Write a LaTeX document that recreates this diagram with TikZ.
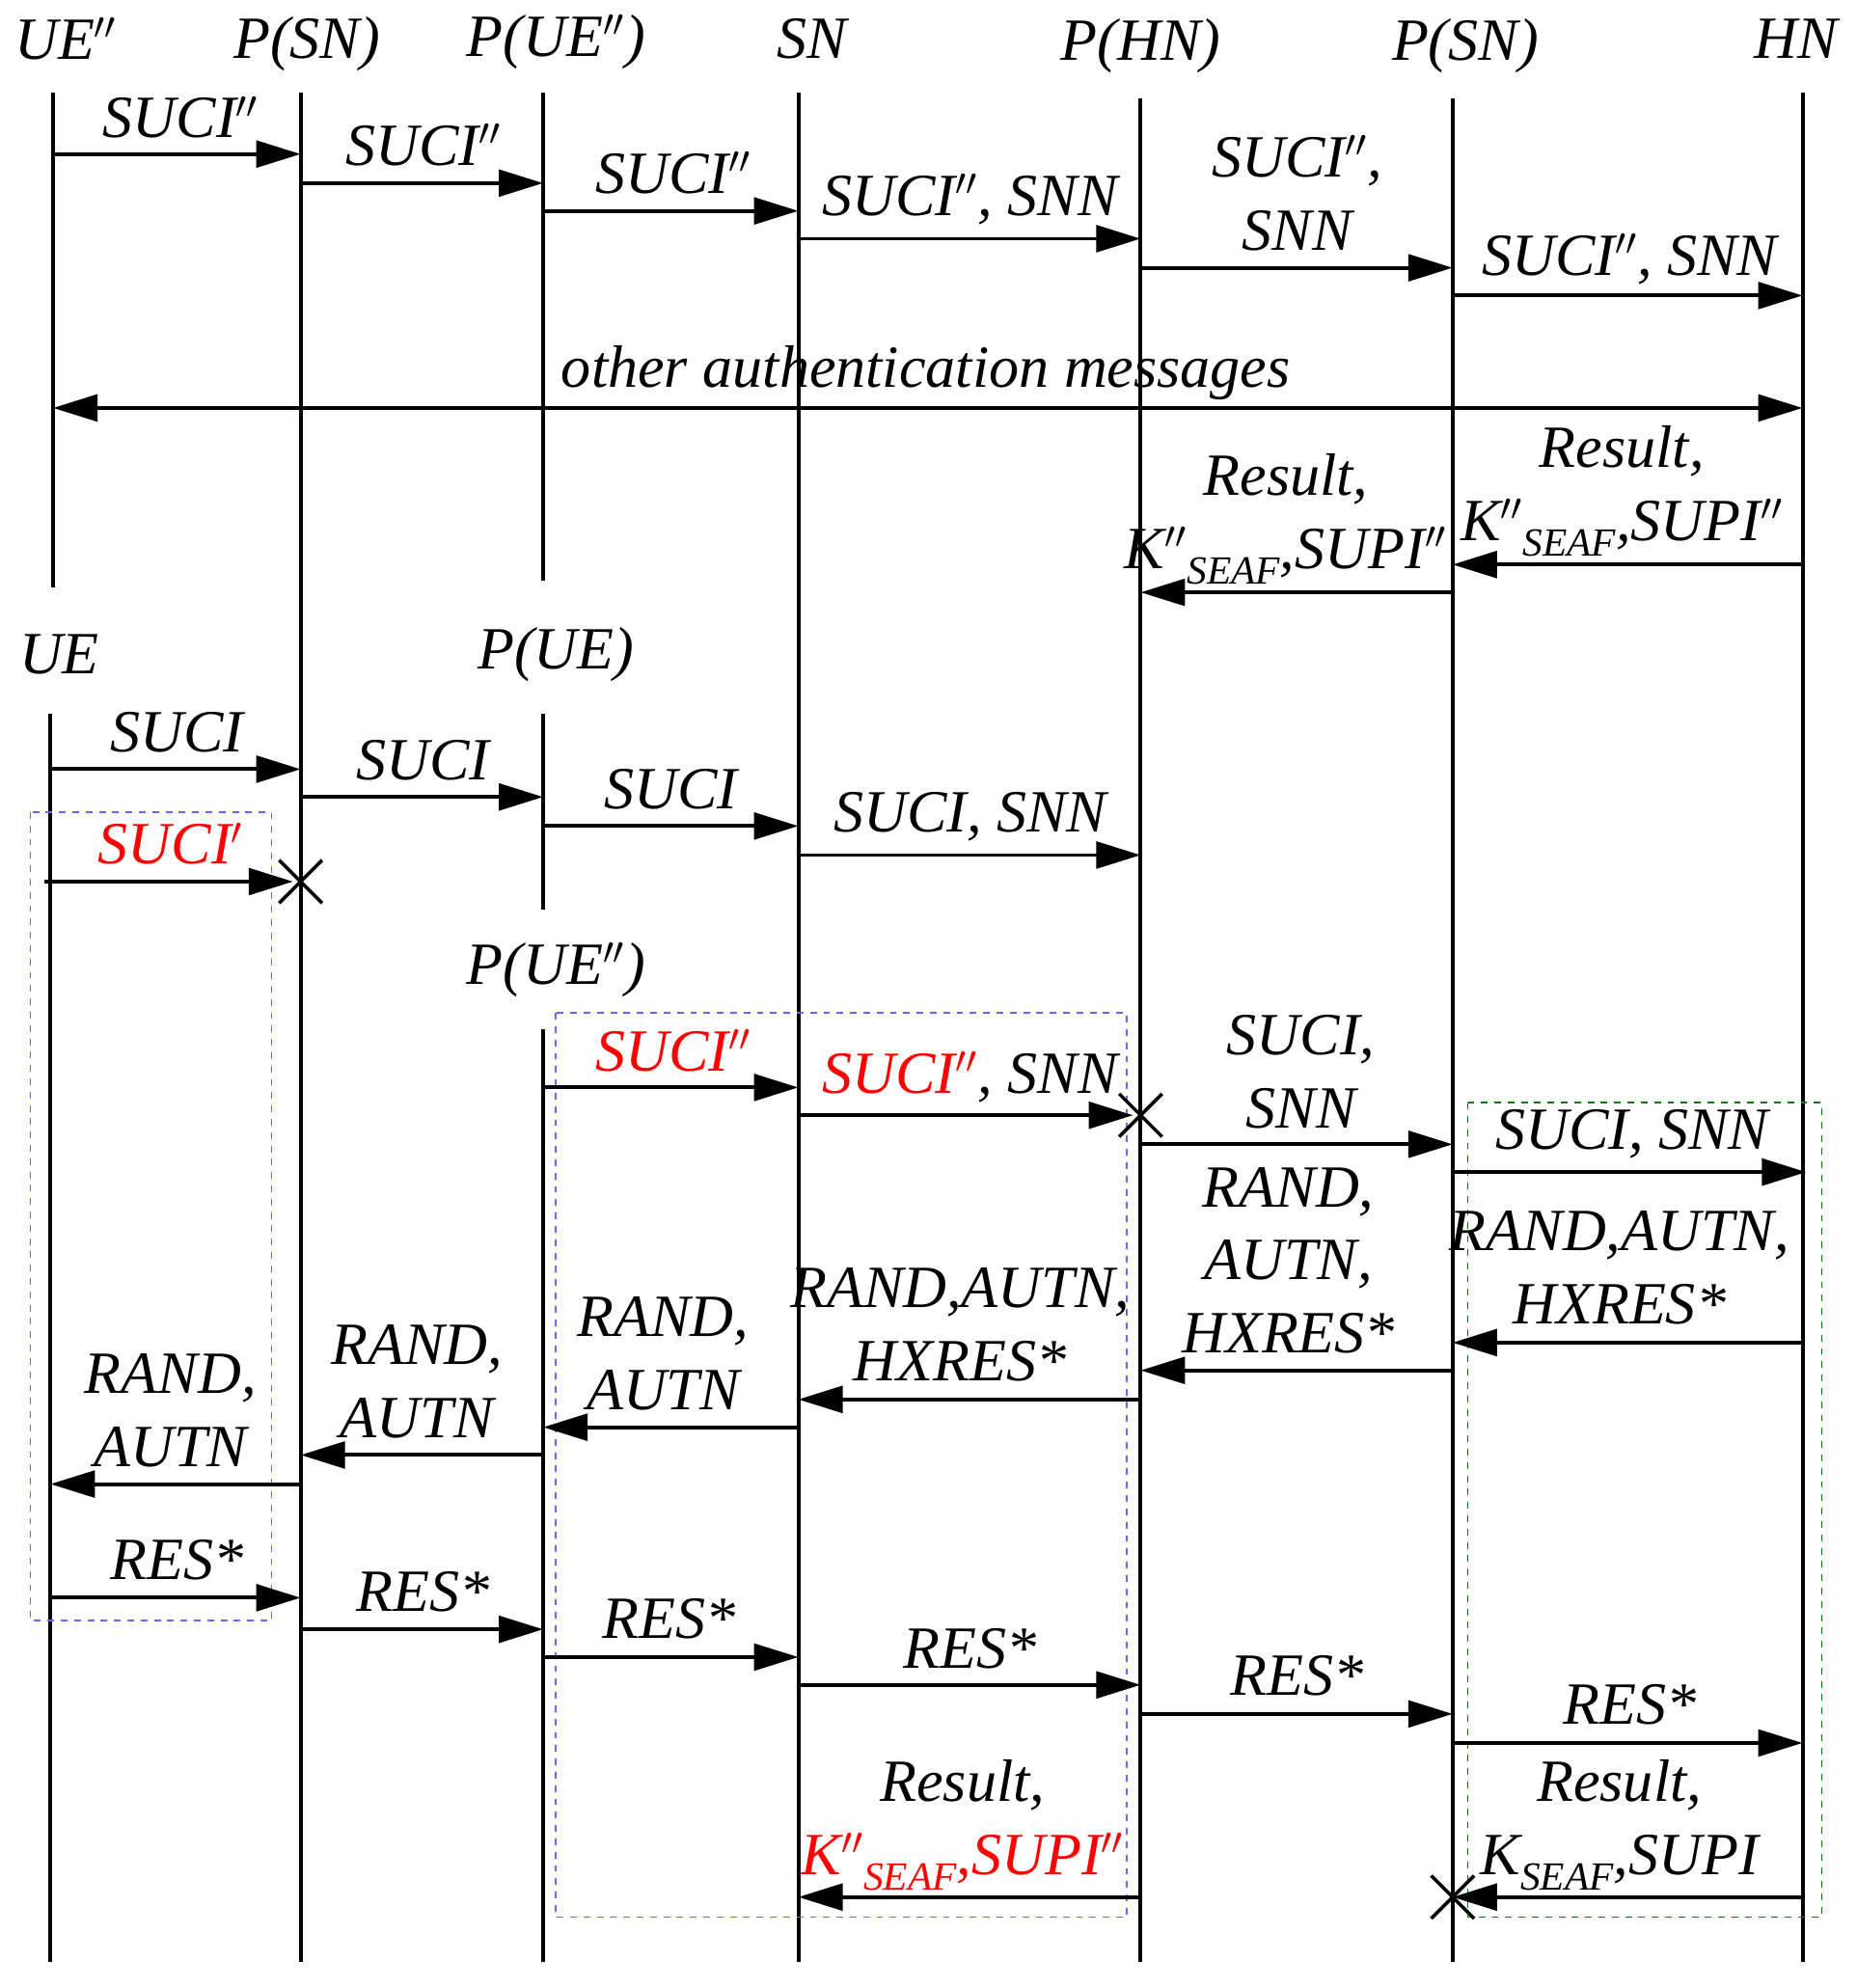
\documentclass[tikz,border=0pt]{standalone}
\usepackage{fontspec}
\setmainfont{Liberation Serif}
\usetikzlibrary{arrows.meta,calc}
\newcommand{\pp}{$''$}
\newcommand{\sub}[1]{\raisebox{-7pt}{\fontsize{18}{18}\selectfont #1}}
\tikzset{
 x=0.02cm,y=-0.02cm,
 life/.style={line width=1.7pt},
 msg/.style={line width=1.7pt,-{Triangle[length=20pt,width=12pt]}},
 dmsg/.style={line width=1.7pt,{Triangle[length=20pt,width=12pt]}-{Triangle[length=20pt,width=12pt]}},
 lbl/.style={font=\fontsize{27}{33}\selectfont\itshape,inner sep=0pt},
 hdr/.style={font=\fontsize{27}{33}\selectfont\itshape,inner sep=0pt},
 xmark/.style={line width=1.5pt},
 bbox/.style={dashed,draw=blue!60,line width=0.6pt},
 gbox/.style={dashed,draw=green!50!black,line width=0.6pt}
}
\newcommand{\msgline}[4]{\coordinate (#4a) at (#1,#3);\coordinate (#4b) at (#2,#3);\draw[msg] (#4a) -- (#4b);}
\newcommand{\xm}[3]{\coordinate (#3) at (#1,#2);\draw[xmark] ($(#3)+(-17,-17)$) -- ($(#3)+(17,17)$) ($(#3)+(-17,17)$) -- ($(#3)+(17,-17)$);}
\begin{document}
\begin{tikzpicture}
\useasboundingbox (0,0) rectangle (1470,1574);
% headers
\node[hdr] (h1) at (52,31) {UE\pp};
\node[hdr] (h2) at (243,35) {P(SN)};
\node[hdr] (h3) at (440,33) {P(UE\pp)};
\node[hdr] (h4) at (643,31) {SN};
\node[hdr] (h5) at (903,36) {P(HN)};
\node[hdr] (h6) at (1160,36) {P(SN)};
\node[hdr] (h7) at (1422,31) {HN};
\node[hdr] (h8) at (47,518) {UE};
\node[hdr] (h9) at (440,518) {P(UE)};
\node[hdr] (h10) at (440,768) {P(UE\pp)};
% lifelines
\draw[life] (42,73) -- (42,465);
\draw[life] (238,73) -- (238,1553);
\draw[life] (430,73) -- (430,460);
\draw[life] (632,73) -- (632,1553);
\draw[life] (903,78) -- (903,1553);
\draw[life] (1150,78) -- (1150,1553);
\draw[life] (1427,73) -- (1427,1553);
\draw[life] (40,565) -- (40,1553);
\draw[life] (430,565) -- (430,720);
\draw[life] (430,815) -- (430,1553);
% boxes
\draw[bbox] (24,643) rectangle (215,1283);
\draw[bbox] (440,802) rectangle (892,1518);
\draw[gbox] (1162,873) rectangle (1442,1518);
% top messages
\msgline{42}{238}{122}{m1}\node[lbl] at (143,93) {SUCI\pp};
\msgline{238}{430}{145}{m2}\node[lbl] at (335,115) {SUCI\pp};
\msgline{430}{632}{167}{m3}\node[lbl] at (533,137) {SUCI\pp};
\msgline{632}{903}{189}{m4}\node[lbl] at (768,158) {SUCI\pp, SNN};
\msgline{903}{1150}{212}{m5}\node[lbl,align=center] at (1027,153) {SUCI\pp,\\SNN};
\msgline{1150}{1427}{234}{m6}\node[lbl] at (1290,205) {SUCI\pp, SNN};
\coordinate (d1) at (42,323);\coordinate (d2) at (1427,323);\draw[dmsg] (d1) -- (d2);
\node[lbl] at (733,295) {other authentication messages};
\msgline{1427}{1150}{447}{m7}\node[lbl,align=center] at (1284,389) {Result,\\K\pp\sub{SEAF},SUPI\pp};
\msgline{1150}{903}{469}{m8}\node[lbl,align=center] at (1018,411) {Result,\\K\pp\sub{SEAF},SUPI\pp};
% second section
\msgline{40}{238}{609}{n1}\node[lbl] at (140,580) {SUCI};
\msgline{238}{430}{631}{n2}\node[lbl] at (335,602) {SUCI};
\msgline{430}{632}{654}{n3}\node[lbl] at (531,625) {SUCI};
\msgline{632}{903}{677}{n4}\node[lbl] at (768,647) {SUCI, SNN};
\msgline{35}{232}{698}{n5}\node[lbl,red] at (135,668) {SUCI$'$};
\xm{238}{698}{x1}
\msgline{430}{632}{861}{n6}\node[lbl,red] at (533,832) {SUCI\pp};
\msgline{632}{897}{883}{n7}\node[lbl] at (768,853) {\textcolor{red}{SUCI\pp}, SNN};
\xm{903}{883}{x2}
\msgline{903}{1150}{906}{n8}\node[lbl,align=center] at (1030,849) {SUCI,\\SNN};
\msgline{1152}{1430}{928}{n9}\node[lbl] at (1292,898) {SUCI, SNN};
\msgline{1427}{1150}{1063}{n10}\node[lbl,align=center] at (1282,1004) {RAND,AUTN,\\HXRES*};
\msgline{1150}{903}{1085}{n11}\node[lbl,align=center] at (1020,998) {RAND,\\AUTN,\\HXRES*};
\msgline{903}{632}{1108}{n12}\node[lbl,align=center] at (760,1049) {RAND,AUTN,\\HXRES*};
\msgline{632}{430}{1130}{n13}\node[lbl,align=center] at (525,1072) {RAND,\\AUTN};
\msgline{430}{238}{1152}{n14}\node[lbl,align=center] at (330,1094) {RAND,\\AUTN};
\msgline{238}{40}{1175}{n15}\node[lbl,align=center] at (135,1117) {RAND,\\AUTN};
\msgline{40}{238}{1265}{r1}\node[lbl] at (140,1235) {RES*};
\msgline{238}{430}{1290}{r2}\node[lbl] at (335,1260) {RES*};
\msgline{430}{632}{1312}{r3}\node[lbl] at (530,1282) {RES*};
\msgline{632}{903}{1334}{r4}\node[lbl] at (768,1305) {RES*};
\msgline{903}{1150}{1357}{r5}\node[lbl] at (1027,1327) {RES*};
\msgline{1150}{1427}{1380}{r6}\node[lbl] at (1290,1350) {RES*};
\msgline{903}{632}{1502}{r7}\node[lbl,align=center] at (762,1445) {Result,\\\textcolor{red}{K\pp\sub{SEAF},SUPI\pp}};
\msgline{1427}{1150}{1502}{r8}\node[lbl,align=center] at (1282,1445) {Result,\\K\sub{SEAF},SUPI};
\xm{1150}{1502}{x3}
\end{tikzpicture}
\end{document}
